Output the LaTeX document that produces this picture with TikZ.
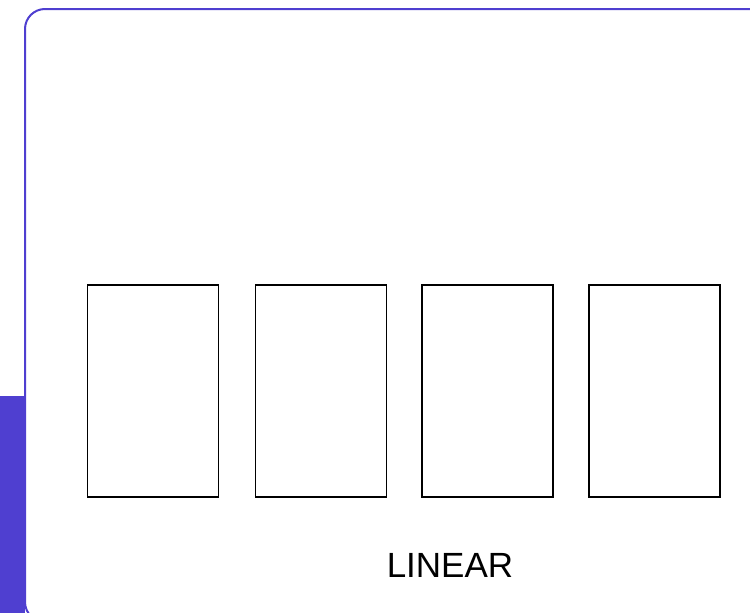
\documentclass[tikz,border=0pt]{standalone}
\usepackage{fontspec}
\setmainfont{Liberation Sans}
\definecolor{accent}{HTML}{4F3FD0}
\begin{document}
\begin{tikzpicture}[x=1pt,y=-1pt,
  panel/.style={draw=black,line width=1.4pt},
  frame/.style={draw=accent,line width=2pt,rounded corners=20pt}]
\useasboundingbox (0,0) rectangle (750,613);
\begin{scope}
\clip (0,0) rectangle (750,613);
% left accent strip
\fill[accent] (0,396) rectangle (25,613);
% outer card
\draw[frame] (25,9) rectangle (780,622);
\end{scope}
% four panels
\node[panel,minimum width=131pt,minimum height=212pt,inner sep=0pt] (p1) at (153,391) {};
\node[panel,minimum width=131pt,minimum height=212pt,inner sep=0pt] (p2) at (321,391) {};
\node[panel,minimum width=131pt,minimum height=212pt,inner sep=0pt] (p3) at (487.5,391) {};
\node[panel,minimum width=131pt,minimum height=212pt,inner sep=0pt] (p4) at (654.5,391) {};
\node[font=\fontsize{35}{40}\selectfont,inner sep=0pt,anchor=base] (lbl) at (450,577) {LINEAR};
\end{tikzpicture}
\end{document}
